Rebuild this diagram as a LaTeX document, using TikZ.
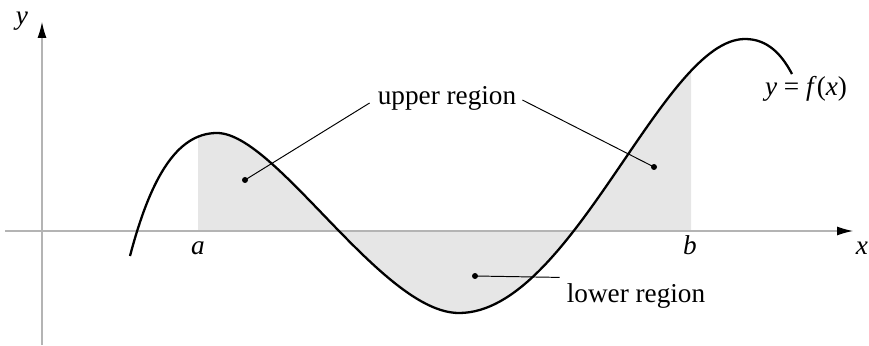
\documentclass[tikz,border=0pt]{standalone}
\usepackage{fontspec}
\setmainfont{Liberation Serif}
\usetikzlibrary{arrows.meta,calc,positioning}
\definecolor{rgink}{HTML}{000000}
\definecolor{rgaxis}{HTML}{B4B4B4}
\definecolor{rgfill}{HTML}{E6E6E6}
\tikzset{
  rg text/.style={font=\fontsize{15.5}{18}\selectfont, text=rgink},
  rg axis/.style={draw=rgaxis, line width=0.6pt, -{Latex[length=3.2mm,width=1.8mm,color=rgink]}},
  rg curve/.style={draw=rgink, line width=1.3pt},
  rg area/.style={fill=rgfill},
  rg leader/.style={draw=rgink, line width=0.55pt},
  rg dot/.style={fill=rgink},
  rg label/.style={font=\fontsize{15.5}{18}\selectfont\itshape, text=rgink}
}
\newcommand{\rgpath}{(130,89) .. controls (150,165) and (176,212) .. (217,212)
  .. controls (276,212) and (382,32) .. (459,32)
  .. controls (572,32) and (662,306) .. (745,306)
  .. controls (768,306) and (782,290) .. (792,271)}
\begin{document}
\begin{tikzpicture}[rg text, x=0.02cm, y=0.02cm]
  \useasboundingbox (0,0) rectangle (869,345);
  % shaded area between curve and axis
  \begin{scope}
    \clip (198,0) rectangle (691,345);
    \fill[rg area] \rgpath -- (792,114) -- (130,114) -- cycle;
  \end{scope}
  % axes
  \draw[rg axis] (5,114) -- (853,114);
  \draw[rg axis] (42,0) -- (42,323);
  \node[rg label] (ylab) at (22,324) {y};
  \node[rg label] (xlab) at (862,97) {x};
  \node[rg label] (alab) at (198,97) {a};
  \node[rg label] (blab) at (690,100) {b};
  % the curve
  \draw[rg curve] \rgpath;
  \node (flab) at (806,256) {\textit{y} = \textit{f}(\textit{x})};
  % region labels
  \coordinate (dotA) at (245,165);
  \coordinate (dotB) at (654,178);
  \coordinate (dotC) at (475,69);
  \node (upper) at (447,247) {upper region};
  \node (lower) at (636,49) {lower region};
  \draw[rg leader] ($(upper.west)+(-2,-5)$) -- (dotA);
  \draw[rg leader] ($(upper.east)+(0,-2)$) -- (dotB);
  \draw[rg leader] ($(lower.north west)+(-1,0)$) -- (dotC);
  \foreach \d in {dotA,dotB,dotC} \fill[rg dot] (\d) circle (3);
\end{tikzpicture}
\end{document}
